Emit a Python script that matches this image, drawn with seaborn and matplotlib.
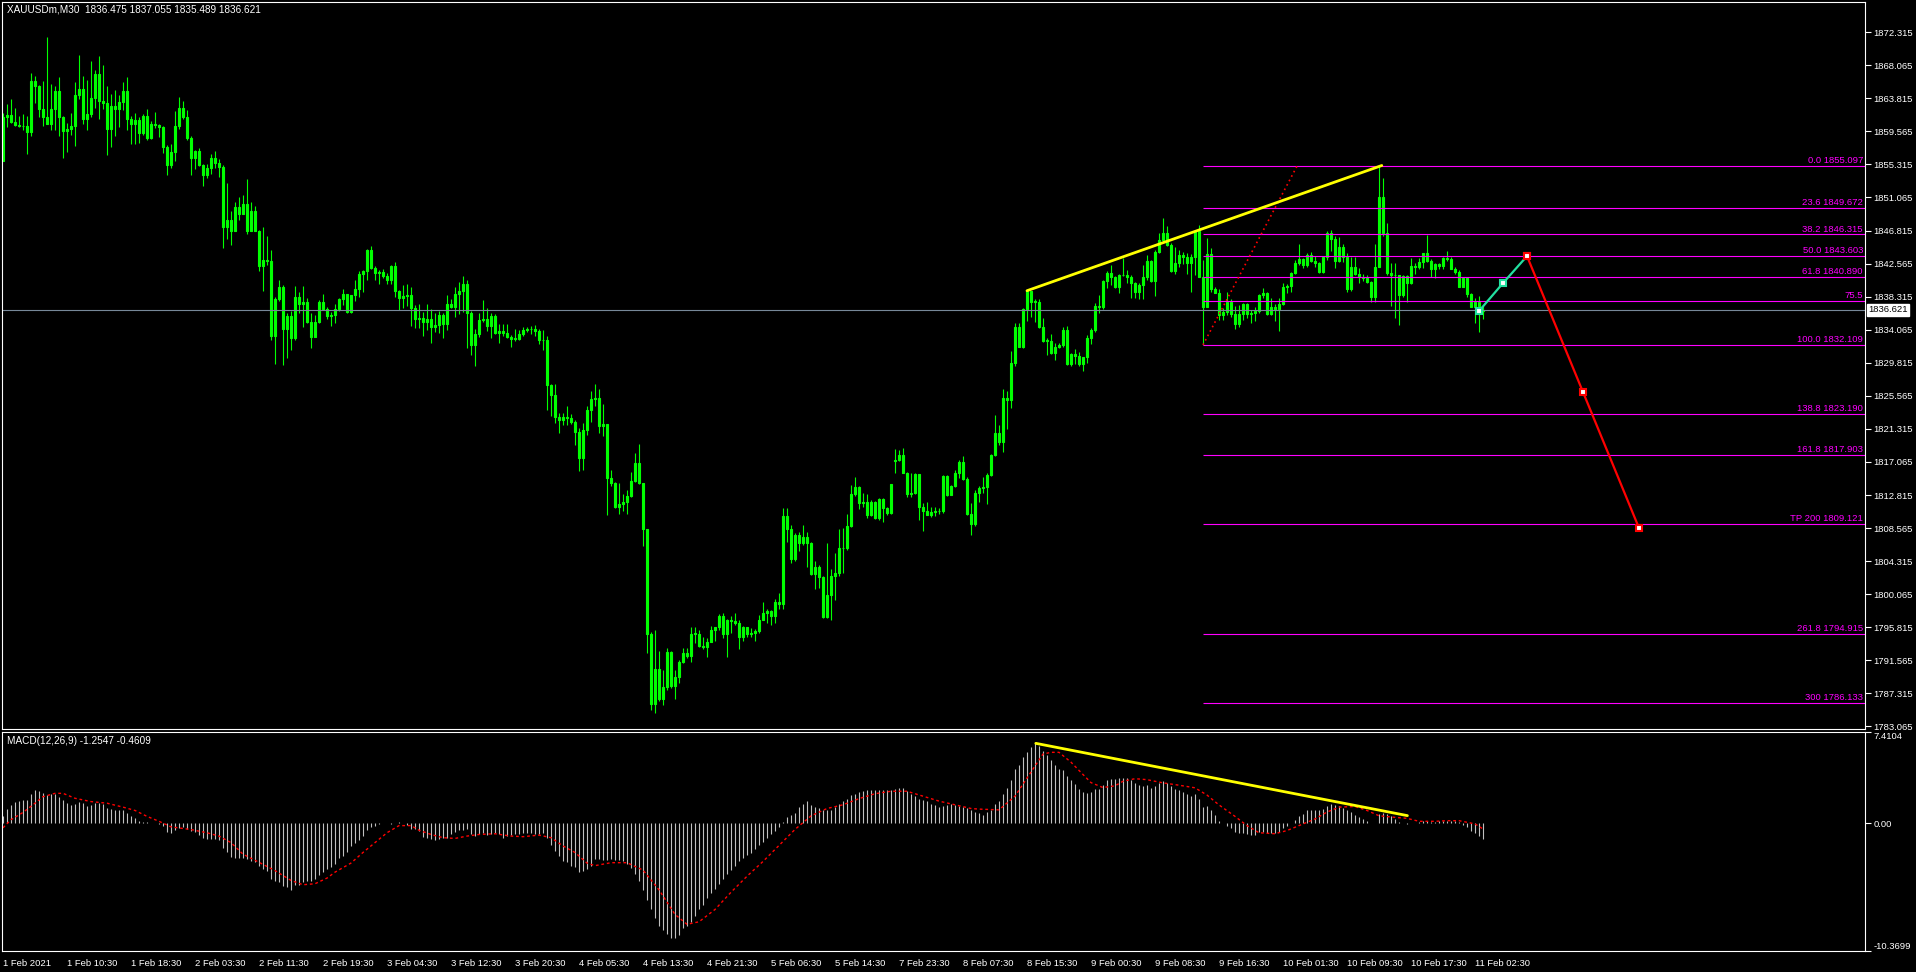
import numpy as np
import pandas as pd
import seaborn as sns
import matplotlib.pyplot as plt
from matplotlib.transforms import blended_transform_factory

# ---- price data (XAUUSDm M30), one value per bar ----
first_open = 1855.7
gap_open = {223: 1817.23}   # weekend gap: Sunday open

close_a = [1861.4, 1861.7, 1860.8, 1860.4, 1860.2, 1860.3, 1859.5, 1866.0, 1865.4, 1862.4,
           1861.4, 1860.5, 1862.5, 1864.7, 1861.4, 1859.6, 1859.9, 1860.2, 1864.2, 1865.0,
           1861.1, 1861.8, 1863.9, 1867.0, 1863.5, 1863.2, 1859.9, 1862.8, 1862.4, 1863.4,
           1864.7, 1861.2, 1860.5, 1861.0, 1859.4, 1861.5, 1858.7, 1860.5, 1860.4, 1860.1,
           1857.5, 1855.3, 1856.9, 1860.2, 1862.6, 1861.4, 1858.7, 1856.1, 1857.0, 1855.2,
           1853.9, 1854.8, 1856.2, 1855.5, 1855.0, 1847.3, 1848.2, 1846.7, 1849.8, 1849.0,
           1850.2, 1846.8, 1849.3, 1846.8, 1842.2, 1843.0, 1842.9, 1833.3, 1838.0, 1839.5,
           1834.1, 1835.8, 1833.0, 1838.3, 1837.4, 1837.6, 1835.0, 1833.1, 1835.0, 1837.6,
           1836.7, 1835.8, 1836.0, 1836.7, 1838.0, 1838.6, 1836.3, 1838.5, 1839.3, 1841.2,
           1841.6, 1844.3, 1842.0, 1841.3, 1841.5, 1841.0, 1840.4, 1842.3, 1839.0, 1838.1]
high_a = [1861.9, 1863.1, 1863.7, 1862.6, 1861.5, 1861.8, 1861.5, 1867.1, 1866.7, 1865.5,
          1866.1, 1871.7, 1865.6, 1865.4, 1866.6, 1861.5, 1860.6, 1861.9, 1865.9, 1869.4,
          1866.7, 1866.2, 1868.6, 1867.4, 1869.2, 1868.1, 1865.4, 1864.4, 1864.9, 1864.2,
          1865.9, 1866.6, 1861.5, 1861.9, 1861.4, 1861.8, 1862.5, 1860.9, 1862.1, 1860.5,
          1860.2, 1857.8, 1858.0, 1862.2, 1864.0, 1863.5, 1862.3, 1859.0, 1857.2, 1857.4,
          1855.4, 1855.4, 1856.6, 1857.0, 1856.0, 1855.2, 1852.9, 1849.3, 1850.5, 1851.1,
          1851.4, 1853.4, 1850.5, 1850.0, 1846.9, 1847.3, 1846.1, 1844.3, 1838.3, 1840.5,
          1839.8, 1836.2, 1836.5, 1839.7, 1838.9, 1839.7, 1838.1, 1836.2, 1836.0, 1837.9,
          1838.7, 1837.0, 1836.4, 1837.4, 1838.1, 1839.3, 1838.7, 1838.5, 1840.4, 1841.6,
          1841.8, 1844.4, 1844.8, 1842.3, 1841.8, 1841.9, 1841.3, 1842.4, 1842.8, 1839.2]
low_a = [1855.7, 1860.1, 1860.7, 1860.2, 1860.1, 1859.7, 1856.6, 1859.0, 1863.2, 1861.4,
         1860.3, 1860.5, 1859.8, 1859.8, 1859.0, 1856.2, 1856.9, 1859.1, 1857.7, 1863.7,
         1860.5, 1859.7, 1861.4, 1862.6, 1861.2, 1862.5, 1856.5, 1857.6, 1859.0, 1860.1,
         1862.3, 1859.8, 1858.0, 1858.0, 1858.1, 1859.1, 1858.4, 1858.6, 1860.0, 1858.8,
         1856.8, 1853.9, 1854.9, 1855.7, 1859.9, 1861.2, 1858.5, 1853.9, 1854.7, 1855.1,
         1852.6, 1853.6, 1854.1, 1854.9, 1853.7, 1844.6, 1845.7, 1845.0, 1846.7, 1848.2,
         1849.0, 1846.4, 1846.7, 1846.7, 1841.6, 1839.1, 1842.4, 1832.7, 1829.7, 1837.8,
         1829.5, 1830.4, 1831.5, 1832.7, 1836.2, 1834.4, 1834.9, 1831.7, 1833.1, 1834.9,
         1836.6, 1835.5, 1834.5, 1834.9, 1836.5, 1837.3, 1836.2, 1836.2, 1837.7, 1838.3,
         1838.9, 1840.5, 1841.9, 1840.4, 1839.9, 1840.7, 1840.0, 1840.0, 1838.3, 1836.6]

close_b = [1838.4, 1838.5, 1836.9, 1835.5, 1835.6, 1835.1, 1835.5, 1834.4, 1834.7, 1836.0,
           1834.8, 1837.4, 1837.0, 1838.6, 1839.0, 1840.0, 1836.2, 1832.1, 1833.5, 1835.3,
           1835.4, 1834.6, 1835.8, 1833.7, 1833.9, 1833.7, 1833.1, 1832.9, 1832.9, 1833.5,
           1834.0, 1834.1, 1834.2, 1833.9, 1832.8, 1832.7, 1826.9, 1825.7, 1822.8, 1822.5,
           1822.9, 1822.7, 1822.2, 1820.9, 1817.6, 1821.2, 1823.7, 1825.2, 1825.3, 1821.7,
           1821.9, 1815.0, 1814.4, 1811.3, 1811.7, 1811.9, 1812.7, 1814.6, 1816.9, 1814.3,
           1808.4, 1795.0, 1785.9, 1790.5, 1786.6, 1788.1, 1792.6, 1788.2, 1789.4, 1791.3,
           1792.5, 1792.1, 1795.0, 1795.0, 1793.4, 1793.3, 1793.9, 1795.5, 1795.8, 1797.3,
           1795.0, 1796.7, 1796.6, 1796.4, 1794.6, 1795.8, 1795.0, 1795.1, 1795.3, 1796.8,
           1797.7, 1797.9, 1797.2, 1799.0, 1798.8, 1810.1, 1808.4]
high_b = [1839.8, 1840.0, 1839.5, 1837.3, 1837.4, 1836.3, 1837.4, 1836.7, 1836.2, 1836.5,
          1836.2, 1838.5, 1838.0, 1839.5, 1840.2, 1841.0, 1840.5, 1836.5, 1834.2, 1836.2,
          1837.9, 1836.9, 1836.2, 1836.1, 1834.8, 1834.8, 1834.8, 1833.4, 1834.1, 1834.0,
          1834.4, 1834.4, 1834.5, 1834.7, 1834.2, 1834.0, 1833.2, 1827.1, 1827.1, 1823.3,
          1823.4, 1824.2, 1823.2, 1822.4, 1821.4, 1822.1, 1824.2, 1826.2, 1827.1, 1826.4,
          1824.5, 1821.8, 1816.0, 1814.5, 1814.4, 1812.9, 1813.5, 1815.8, 1818.2, 1819.4,
          1814.4, 1808.5, 1795.2, 1795.5, 1792.8, 1790.3, 1793.1, 1792.7, 1790.3, 1791.6,
          1793.1, 1793.2, 1795.8, 1795.8, 1795.4, 1794.5, 1794.4, 1796.0, 1795.9, 1797.5,
          1797.7, 1796.9, 1797.2, 1797.7, 1796.7, 1796.0, 1795.9, 1795.7, 1795.6, 1797.4,
          1799.0, 1798.2, 1798.0, 1799.5, 1800.2, 1811.1, 1811.2]
low_b = [1836.9, 1837.1, 1834.5, 1834.3, 1834.3, 1833.2, 1834.0, 1832.4, 1833.8, 1833.7,
         1833.0, 1834.0, 1836.8, 1835.7, 1836.1, 1836.4, 1831.7, 1830.8, 1829.4, 1833.1,
         1835.0, 1833.9, 1833.0, 1833.5, 1832.4, 1833.2, 1833.0, 1831.9, 1832.6, 1832.7,
         1833.2, 1833.8, 1833.5, 1833.2, 1832.2, 1831.4, 1823.7, 1823.0, 1822.1, 1820.8,
         1821.8, 1821.8, 1821.9, 1819.2, 1815.9, 1816.0, 1820.5, 1822.2, 1824.2, 1820.8,
         1820.4, 1810.2, 1814.0, 1811.1, 1810.4, 1810.7, 1810.4, 1812.6, 1814.5, 1814.2,
         1806.3, 1792.5, 1785.2, 1784.8, 1786.3, 1785.8, 1787.7, 1788.0, 1786.6, 1788.6,
         1791.2, 1791.9, 1791.3, 1793.8, 1793.3, 1793.0, 1792.0, 1794.4, 1794.1, 1795.5,
         1794.4, 1792.0, 1795.1, 1796.1, 1793.0, 1794.1, 1794.5, 1794.5, 1794.0, 1795.1,
         1796.7, 1796.4, 1796.1, 1796.4, 1798.1, 1798.1, 1806.8]

close_c = [1804.55, 1807.68, 1806.69, 1807.38, 1806.69, 1802.66, 1803.52, 1802.24, 1797.09, 1799.96,
           1802.41, 1802.75, 1805.96, 1805.96, 1808.83, 1812.95, 1813.80, 1811.75, 1811.96, 1810.25,
           1811.96, 1809.90, 1812.26, 1811.10, 1810.46, 1814.19, 1817.31, 1817.91, 1815.69, 1812.95,
           1813.03, 1815.52, 1811.32, 1810.80, 1810.25, 1810.67, 1810.76, 1810.72, 1815.26, 1812.82,
           1813.97, 1815.60, 1817.01, 1814.83, 1810.37, 1809.09, 1813.03, 1813.67, 1813.89, 1815.34,
           1817.96, 1820.74, 1819.67, 1825.24, 1825.03, 1829.74, 1834.37, 1831.88, 1836.68, 1839.08,
           1837.66, 1837.66, 1834.45, 1832.65, 1832.65, 1831.11, 1831.80, 1832.09, 1834.02, 1829.65,
           1830.94, 1830.68, 1829.65, 1830.51, 1832.95, 1834.02, 1837.11, 1836.94, 1840.32, 1841.39,
           1840.79, 1839.51, 1841.09, 1841.05, 1840.88, 1840.02, 1838.95, 1839.81, 1840.79, 1842.89,
           1840.36, 1844.09, 1845.59, 1846.45, 1844.95, 1841.65, 1842.59, 1843.66]
high_c = [1808.96, 1807.98, 1808.10, 1808.96, 1808.10, 1806.82, 1804.33, 1803.82, 1802.41, 1806.60,
          1803.26, 1805.32, 1808.40, 1808.53, 1810.37, 1814.10, 1815.17, 1813.97, 1813.12, 1812.95,
          1812.17, 1812.09, 1812.39, 1812.39, 1811.32, 1814.19, 1818.68, 1818.60, 1818.81, 1815.81,
          1815.69, 1815.69, 1815.52, 1811.83, 1811.96, 1811.23, 1811.23, 1811.10, 1815.39, 1815.39,
          1814.10, 1816.03, 1817.31, 1817.83, 1815.09, 1811.83, 1813.46, 1813.97, 1815.09, 1815.60,
          1818.09, 1823.10, 1821.81, 1826.40, 1826.23, 1831.32, 1834.88, 1834.97, 1836.81, 1839.16,
          1838.22, 1837.96, 1837.96, 1835.52, 1832.95, 1833.51, 1832.31, 1832.39, 1834.45, 1834.54,
          1831.02, 1831.54, 1831.24, 1830.60, 1833.38, 1834.24, 1837.53, 1838.52, 1840.45, 1841.65,
          1842.38, 1840.96, 1841.22, 1843.23, 1841.73, 1841.09, 1840.24, 1840.11, 1842.38, 1843.66,
          1843.02, 1844.30, 1846.53, 1848.37, 1847.39, 1845.16, 1844.73, 1844.30]
low_c = [1804.03, 1804.33, 1805.66, 1806.39, 1803.52, 1802.54, 1800.69, 1800.82, 1796.97, 1796.97,
         1796.75, 1799.32, 1802.41, 1802.84, 1805.75, 1808.66, 1812.69, 1810.97, 1811.32, 1809.82,
         1810.12, 1809.73, 1809.60, 1809.39, 1810.25, 1810.37, 1815.69, 1817.23, 1815.60, 1812.60,
         1812.60, 1812.95, 1809.60, 1808.23, 1810.25, 1810.03, 1810.12, 1810.37, 1810.46, 1812.69,
         1812.82, 1813.80, 1814.96, 1814.75, 1810.25, 1807.68, 1808.83, 1811.96, 1813.03, 1811.66,
         1815.26, 1817.83, 1819.24, 1818.39, 1821.26, 1823.96, 1829.40, 1831.80, 1831.67, 1835.22,
         1835.65, 1835.09, 1834.24, 1832.52, 1830.81, 1830.94, 1830.17, 1831.67, 1831.88, 1829.52,
         1829.44, 1829.65, 1829.40, 1828.80, 1829.82, 1832.22, 1833.81, 1836.25, 1836.68, 1839.38,
         1839.81, 1839.38, 1838.82, 1840.96, 1840.11, 1838.09, 1838.09, 1838.01, 1837.96, 1840.45,
         1840.24, 1838.39, 1843.88, 1845.38, 1844.82, 1841.52, 1841.22, 1842.16]

close_d = [1843.44, 1842.58, 1843.36, 1846.78, 1840.79, 1836.93, 1843.78, 1839.24, 1838.81, 1835.94,
           1836.29, 1837.66, 1836.07, 1834.79, 1836.07, 1837.31, 1836.07, 1836.16, 1836.50, 1838.51,
           1838.81, 1836.07, 1837.02, 1836.67, 1837.36, 1839.59, 1839.67, 1841.30, 1842.58, 1843.10,
           1842.37, 1843.66, 1842.93, 1842.67, 1841.51, 1843.36, 1846.44, 1845.67, 1842.93, 1844.73,
           1843.44, 1839.24, 1842.16, 1841.21, 1840.87, 1840.66, 1840.14, 1838.30, 1842.16, 1851.07,
           1846.53, 1841.38, 1841.08, 1841.08, 1838.51, 1840.96, 1840.01, 1842.24, 1842.07, 1842.80,
           1843.87, 1842.93, 1841.81, 1842.50, 1842.24, 1843.23, 1843.19, 1841.86, 1841.51, 1839.59,
           1840.66, 1838.64, 1837.02, 1837.66, 1836.475, 1836.621]
high_d = [1844.08, 1843.87, 1843.78, 1846.95, 1847.51, 1843.01, 1845.80, 1844.51, 1839.59, 1839.24,
          1836.80, 1838.94, 1837.96, 1837.10, 1837.23, 1837.53, 1837.53, 1836.59, 1836.93, 1838.64,
          1839.37, 1838.94, 1838.09, 1837.36, 1838.09, 1840.10, 1839.93, 1841.51, 1843.01, 1845.07,
          1843.23, 1843.87, 1844.08, 1843.53, 1842.80, 1843.53, 1846.78, 1846.87, 1846.10, 1846.01,
          1845.07, 1843.87, 1843.36, 1843.36, 1841.94, 1841.21, 1841.08, 1840.31, 1845.07, 1855.10,
          1853.51, 1847.73, 1842.58, 1842.58, 1841.08, 1841.08, 1841.08, 1843.23, 1842.58, 1843.23,
          1843.96, 1846.23, 1843.10, 1842.58, 1842.58, 1843.36, 1844.21, 1843.36, 1842.16, 1841.73,
          1840.87, 1840.66, 1838.73, 1838.09, 1838.39, 1837.055]
low_d = [1842.50, 1841.21, 1838.94, 1841.08, 1840.79, 1832.11, 1836.93, 1838.94, 1838.73, 1835.30,
         1835.30, 1835.94, 1835.73, 1834.14, 1834.44, 1835.30, 1835.52, 1834.87, 1835.22, 1836.16,
         1838.09, 1835.94, 1835.94, 1835.22, 1833.93, 1837.23, 1838.81, 1838.94, 1841.21, 1842.37,
         1841.94, 1842.16, 1842.80, 1842.16, 1841.38, 1841.38, 1843.01, 1844.21, 1841.94, 1842.80,
         1842.80, 1838.94, 1839.07, 1841.08, 1840.10, 1840.36, 1840.01, 1837.66, 1837.66, 1842.16,
         1846.10, 1841.08, 1837.10, 1835.52, 1834.66, 1838.30, 1837.66, 1839.93, 1841.21, 1841.81,
         1841.94, 1842.80, 1840.79, 1840.66, 1841.81, 1841.81, 1842.93, 1841.81, 1841.21, 1839.50,
         1839.50, 1838.30, 1836.93, 1834.96, 1833.80, 1835.489]

# ---- MACD(12,26,9) histogram, one value per bar ----
macd_a = [0.61, 1.15, 1.49, 1.76, 1.84, 1.89, 1.89, 2.37, 2.69, 2.61,
          2.48, 2.29, 2.37, 2.37, 2.16, 1.89, 1.68, 1.49, 1.57, 1.76,
          1.63, 1.41, 1.49, 1.63, 1.63, 1.57, 1.23, 1.15, 1.04, 1.09,
          1.09, 0.83, 0.56, 0.40, 0.21, 0.13, 0.08, 0.03, 0.03, -0.03,
          -0.24, -0.72, -0.83, -0.51, -0.37, -0.29, -0.45, -0.59, -0.72, -0.99,
          -1.17, -1.31, -1.31, -1.25, -1.36, -1.97, -2.37, -2.77, -2.85, -2.85,
          -2.85, -2.91, -3.04, -3.12, -3.44, -3.71, -3.84, -4.51, -4.72, -4.77,
          -5.12, -5.17, -5.44, -4.99, -4.99, -4.77, -4.72, -4.72, -4.51, -4.24,
          -3.97, -3.71, -3.57, -3.31, -2.85, -2.64, -2.37, -1.84, -1.57, -1.36,
          -1.04, -0.51, -0.29, -0.19, -0.03, 0.02, 0.03, -0.03, 0.02, 0.08,
          0.02, -0.11, -0.45, -0.45, -0.64, -1.09, -1.20, -1.31, -1.36, -1.31,
          -1.17, -1.17, -0.91, -0.72, -0.51, -0.51, -0.45, -0.91, -1.04, -0.91,
          -0.83, -0.99, -0.91, -0.83, -0.91, -1.17, -1.04, -0.99, -0.91, -0.91,
          -0.77, -0.77, -0.83, -0.91, -0.91, -0.77, -1.17, -1.79, -2.24, -2.64,
          -3.04, -3.17, -3.44, -3.57, -3.92, -3.84, -3.71, -3.44, -2.91, -2.91]
macd_b = [-3.0, -3.0, -2.9, -3.0, -3.0, -3.1, -3.3, -3.6, -4.1, -4.7,
          -5.4, -6.2, -7.0, -7.7, -8.3, -8.7, -9.0, -9.3, -9.3, -9.1,
          -8.5, -8.3, -8.0, -7.5, -7.0, -6.6, -6.1, -5.7, -5.3, -4.9,
          -4.5, -4.1, -3.8, -3.5, -3.1, -2.8, -2.6, -2.4, -2.1, -1.8,
          -1.5, -1.2, -0.9, -0.6, -0.3, 0.1, 0.5, 0.7, 0.8, 1.3,
          1.6, 1.8, 1.5, 1.3, 1.2, 1.1, 1.1, 1.1, 1.3, 1.6,
          1.8, 2.0, 2.3, 2.4, 2.5, 2.6, 2.7, 2.7, 2.7, 2.7,
          2.7, 2.7, 2.7, 2.8, 2.9, 2.9, 2.6, 2.4, 2.2, 2.0,
          1.9, 1.8, 1.6, 1.5, 1.3, 1.4, 1.5, 1.6, 1.5, 1.4,
          1.3, 1.2, 1.1, 0.9, 0.8]
macd_c = [0.69, 0.88, 1.09, 1.57, 1.81, 2.37, 2.85, 3.49, 4.37, 4.77,
          5.41, 5.81, 6.21, 6.50, 6.29, 5.89, 5.57, 5.14, 4.77, 4.42,
          4.34, 3.81, 3.49, 3.17, 2.77, 2.56, 2.48, 2.56, 2.77, 2.82,
          3.14, 3.49, 3.62, 3.62, 3.70, 3.70, 3.70, 3.54, 3.30, 3.14,
          3.06, 3.09, 2.90, 3.01, 3.30, 3.41, 3.30, 3.01, 2.82, 2.69,
          2.56, 2.37, 2.21, 2.37, 1.97, 1.31, 1.41, 1.04, 0.69, 0.21,
          0.03, -0.19, -0.37, -0.72, -0.83, -0.83, -0.91, -0.96, -0.99, -0.72,
          -0.69, -0.83, -0.83, -0.77, -0.72, -0.37, -0.24, 0.0, 0.29, 0.61,
          0.77, 1.04, 1.09, 1.09, 1.09, 1.17, 1.41, 1.57, 1.49, 1.41,
          1.23, 1.04, 0.88, 0.69, 0.51, 0.37, 0.21, 0.0, 0.03, 0.77,
          0.83, 0.77, 0.56, 0.37, 0.08, 0.0, -0.05, 0.03, 0.03, 0.08,
          0.21, 0.21, 0.11, 0.11, 0.16, 0.21, 0.16, 0.21, 0.21, 0.08,
          -0.11, -0.29, -0.64, -0.77, -1.04, -1.2547]

# signal line, read at a few bars
sig_bar = [0, 2, 5, 8, 10, 13, 15, 18, 22, 26, 30, 33, 36, 39, 42, 47, 51, 54, 57, 60,
           64, 68, 72, 75, 78, 81, 83, 87, 90, 93, 96, 99, 102, 104, 107, 110, 113, 116, 119, 123,
           127, 130, 134, 137, 140, 143, 146, 148, 152, 156, 160, 164, 168, 171, 174, 178, 182, 186, 190, 194,
           198, 202, 206, 210, 214, 218, 222, 226, 230, 234, 238, 242, 244, 249, 253, 257, 260, 262, 264, 267,
           269, 272, 275, 278, 280, 283, 286, 290, 294, 298, 301, 304, 308, 311, 314, 318, 321, 324, 328, 331,
           334, 338, 341, 344, 348, 351, 354, 358, 361, 364, 368, 370]
sig_val = [-0.37, 0.29, 0.88, 1.63, 2.16, 2.43, 2.43, 2.03, 1.76, 1.63, 1.31, 1.04, 0.56, 0.16, -0.29, -0.51, -0.77, -1.04, -1.57, -2.51,
           -3.17, -3.84, -4.64, -4.99, -4.91, -4.45, -3.97, -3.23, -2.37, -1.57, -0.77, -0.19, -0.19, -0.56, -0.91, -1.17, -1.23, -1.04, -0.91, -0.85,
           -1.04, -1.09, -0.96, -1.17, -1.84, -2.37, -3.23, -3.44, -3.2, -3.2, -3.8, -5.4, -7.4, -8.2, -8.0, -7.0, -5.6, -4.3, -3.1, -1.8,
           -0.5, 0.6, 1.2, 1.5, 2.0, 2.4, 2.6, 2.6, 2.2, 1.8, 1.5, 1.2, 1.15, 1.09, 2.2, 4.16, 5.62, 5.76, 5.76, 4.96,
           4.29, 3.30, 2.90, 3.04, 3.41, 3.62, 3.54, 3.28, 3.09, 2.88, 2.29, 1.49, 0.56, -0.19, -0.77, -0.85, -0.59, -0.19, 0.35, 0.91,
           1.31, 1.36, 1.04, 0.61, 0.48, 0.40, 0.16, 0.16, 0.21, 0.21, -0.05, -0.4609]

time_labels = ['1 Feb 2021', '1 Feb 10:30', '1 Feb 18:30', '2 Feb 03:30', '2 Feb 11:30', '2 Feb 19:30',
               '3 Feb 04:30', '3 Feb 12:30', '3 Feb 20:30', '4 Feb 05:30', '4 Feb 13:30', '4 Feb 21:30',
               '5 Feb 06:30', '5 Feb 14:30', '7 Feb 23:30', '8 Feb 07:30', '8 Feb 15:30', '9 Feb 00:30',
               '9 Feb 08:30', '9 Feb 16:30', '10 Feb 01:30', '10 Feb 09:30', '10 Feb 17:30', '11 Feb 02:30']
price_ticks = [1872.315, 1868.065, 1863.815, 1859.565, 1855.315, 1851.065, 1846.815, 1842.565,
               1838.315, 1834.065, 1829.815, 1825.565, 1821.315, 1817.065, 1812.815, 1808.565,
               1804.315, 1800.065, 1795.815, 1791.565, 1787.315, 1783.065]

fib_tag = ['0.0', '23.6', '38.2', '50.0', '61.8', '75.5', '100.0', '138.8', '161.8', 'TP 200', '261.8', '300']
fib_price = [1855.097, 1849.672, 1846.315, 1843.603, 1840.890, 1837.741, 1832.109,
             1823.190, 1817.903, 1809.121, 1794.915, 1786.133]
fib_start = 300
fib_diag_bar = [300, 323.5]
fib_diag_px = [1832.109, 1855.097]

trend_bar = [256, 344.7]
trend_px = [1839.08, 1855.18]
macd_trend_bar = [258.2, 351.1]
macd_trend_val = [6.49, 0.62]

proj_up_bar = [369, 375, 381]
proj_up_px = [1836.46, 1840.06, 1843.53]
proj_dn_bar = [381, 395, 409]
proj_dn_px = [1843.53, 1826.05, 1808.57]

last_price = 1836.621
ohlc_title = 'XAUUSDm,M30  1836.475 1837.055 1835.489 1836.621'
macd_title = 'MACD(12,26,9) -1.2547 -0.4609'

# ---- build frame ----
df = pd.DataFrame({'close': close_a + close_b + close_c + close_d,
                   'high': high_a + high_b + high_c + high_d,
                   'low': low_a + low_b + low_c + low_d,
                   'macd': macd_a + macd_b + macd_c})
df['bar'] = np.arange(len(df))
df['open'] = df['close'].shift(1).fillna(first_open)
for k, v in gap_open.items():
    df.loc[k, 'open'] = v
df['high'] = df[['high', 'open', 'close']].max(axis=1)
df['low'] = df[['low', 'open', 'close']].min(axis=1)

sns.set_theme(style='dark', rc={'axes.facecolor': 'black', 'figure.facecolor': 'black',
                                'axes.edgecolor': 'white', 'text.color': 'white',
                                'xtick.color': 'white', 'ytick.color': 'white'})
plt.rcParams['font.family'] = ['Liberation Sans', 'DejaVu Sans']

W, H = 1916, 972
LIME = '#00FF00'
MAG = '#FF00FF'
fs = 6.8

fig = plt.figure(figsize=(W / 100, H / 100), dpi=100)
ax = fig.add_axes([2 / W, 1 - 729 / H, 1863 / W, 727 / H])
ax2 = fig.add_axes([2 / W, 1 - 951 / H, 1863 / W, 219 / H])
xlim = (-0.25, 465.5)

# candles
ax.vlines(df['bar'], df['low'], df['high'], colors=LIME, lw=0.8)
body_lo = df[['open', 'close']].min(axis=1)
body_h = (df['close'] - df['open']).abs().clip(lower=0.06)
ax.bar(df['bar'], body_h, bottom=body_lo, width=0.5, color='white', edgecolor=LIME, linewidth=0.8)

# current price
ax.axhline(last_price, color='#778899', lw=0.8)
tr = blended_transform_factory(ax.transAxes, ax.transData)
ax.text(1.0 + 3 / 1863, last_price, f'{last_price:.3f}', transform=tr, ha='left', va='center',
        color='black', fontsize=fs, clip_on=False,
        bbox=dict(facecolor='white', edgecolor='white', boxstyle='square,pad=0.15'))

# fibonacci levels
ax.hlines(fib_price, fib_start, xlim[1], colors=MAG, lw=0.8)
for tag, p in zip(fib_tag, fib_price):
    lab = tag if tag == '75.5' else f'{tag} {p:.3f}'
    ax.text(465.0, p + 0.12, lab, ha='right', va='bottom', color=MAG, fontsize=fs)
ax.plot(fib_diag_bar, fib_diag_px, color='red', lw=1.2, ls=(0, (1, 2)))

# trendlines and projection
sns.lineplot(x=trend_bar, y=trend_px, ax=ax, color='yellow', lw=2)
sns.lineplot(x=proj_up_bar, y=proj_up_px, ax=ax, color='#22E0A0', lw=1.6, marker='s',
             markersize=5, markerfacecolor='white', markeredgecolor='#22E0A0', markeredgewidth=1.5)
sns.lineplot(x=proj_dn_bar, y=proj_dn_px, ax=ax, color='red', lw=1.6, marker='s',
             markersize=5, markerfacecolor='white', markeredgecolor='red', markeredgewidth=1.5)

ax.set_xlim(*xlim)
ax.set_ylim(1782.73, 1876.2)
ax.set_xticks([])
ax.yaxis.tick_right()
ax.set_yticks(price_ticks)
ax.set_yticklabels([f'{v:.3f}' for v in price_ticks])
ax.tick_params(axis='y', colors='white', length=4, width=0.8, pad=2, labelsize=fs,
               direction='out', right=True, left=False)
ax.set_xlabel('')
ax.set_ylabel('')

# MACD panel
ax2.vlines(df['bar'], 0, df['macd'], colors='#C0C0C0', lw=0.8)
sns.lineplot(x=sig_bar, y=sig_val, ax=ax2, color='red', lw=1.0)
ax2.lines[-1].set_linestyle((0, (2, 2)))
sns.lineplot(x=macd_trend_bar, y=macd_trend_val, ax=ax2, color='yellow', lw=2)
ax2.set_xlim(*xlim)
ax2.set_ylim(-10.3699, 7.4104)
ax2.yaxis.tick_right()
ax2.set_yticks([7.4104, 0.0, -10.3699])
ax2.set_yticklabels(['7.4104', '0.00', '-10.3699'])
ylabs = ax2.get_yticklabels()
ylabs[0].set_va('top')
ylabs[2].set_va('bottom')
ax2.tick_params(axis='y', colors='white', length=4, width=0.8, pad=2, labelsize=fs,
                direction='out', right=True, left=False)
ax2.set_xticks([16 * k for k in range(len(time_labels))])
ax2.set_xticklabels(time_labels, ha='left')
ax2.tick_params(axis='x', colors='white', length=4, width=0.8, pad=2, labelsize=fs, direction='out')
ax2.set_xlabel('')
ax2.set_ylabel('')

for a in (ax, ax2):
    for s in a.spines.values():
        s.set_color('white')
        s.set_linewidth(0.8)
    a.grid(False)

fig.text(7 / W, 1 - 10 / H, ohlc_title, color='white', fontsize=7.2, va='center', ha='left')
fig.text(7 / W, 1 - 741 / H, macd_title, color='white', fontsize=7.2, va='center', ha='left')

fig.savefig('out.png', dpi=100, facecolor='black')
